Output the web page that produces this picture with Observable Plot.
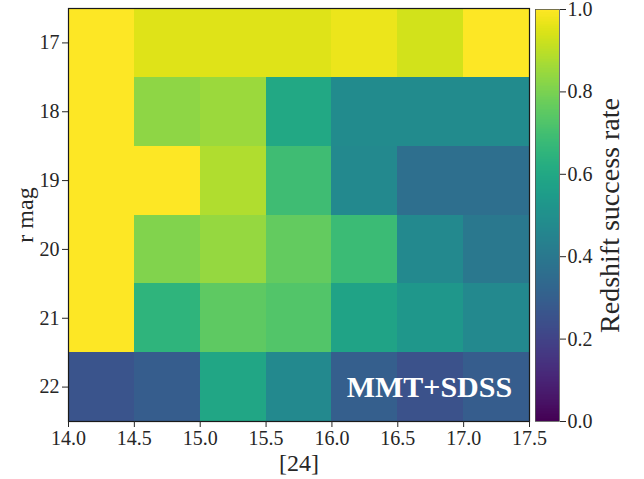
<!DOCTYPE html>
<html>
<head>
<meta charset="utf-8">
<script src="https://cdn.jsdelivr.net/npm/d3@7"></script>
<script src="https://cdn.jsdelivr.net/npm/@observablehq/plot@0.6"></script>
<style>
  body { margin: 0; background: #fff; }
  #chart { position: relative; width: 644px; height: 479px; }
  #chart svg { position: absolute; top: 0; left: 0; }
</style>
</head>
<body>
<div id="chart"></div>
<script>
// r-band magnitude bins (row centres) and [24] magnitude bin edges
const rMag = [17, 18, 19, 20, 21, 22];
const w24Edges = [14.0, 14.5, 15.0, 15.5, 16.0, 16.5, 17.0, 17.5];

// Redshift success rate per [24] bin, one list per r-mag row
const rateR17 = [1.00, 0.95, 0.95, 0.95, 0.97, 0.93, 1.00];
const rateR18 = [1.00, 0.83, 0.85, 0.60, 0.48, 0.48, 0.48];
const rateR19 = [1.00, 1.00, 0.88, 0.69, 0.47, 0.36, 0.36];
const rateR20 = [1.00, 0.81, 0.84, 0.76, 0.68, 0.47, 0.40];
const rateR21 = [1.00, 0.65, 0.75, 0.73, 0.58, 0.53, 0.47];
const rateR22 = [0.26, 0.29, 0.59, 0.47, 0.30, 0.25, 0.29];

const rateTicks = [0, 0.2, 0.4, 0.6, 0.8, 1.0];
const sampleLabel = "MMT+SDSS";

const rows = [rateR17, rateR18, rateR19, rateR20, rateR21, rateR22];
const cells = rows.flatMap((row, i) =>
  row.map((rate, j) => ({
    x1: w24Edges[j], x2: w24Edges[j + 1],
    y1: rMag[i] - 0.5, y2: rMag[i] + 0.5,
    rate
  }))
);

const font = "'Liberation Serif', 'Times New Roman', serif";
const ink = "#262626";
const tickFont = 20;
const colorScale = { type: "linear", scheme: "viridis", domain: [0, 1] };

const main = Plot.plot({
  width: 644, height: 479,
  marginLeft: 68, marginRight: 115, marginTop: 8, marginBottom: 58,
  style: { fontFamily: font, fontSize: "20px", color: ink, background: "none", overflow: "visible" },
  x: { domain: [14, 17.5] },
  y: { domain: [16.5, 22.5], reverse: true },
  color: colorScale,
  marks: [
    Plot.rect(cells, { x1: "x1", x2: "x2", y1: "y1", y2: "y2", fill: "rate", shapeRendering: "crispEdges" }),
    Plot.frame({ stroke: "#1a1a1a", strokeWidth: 1.2 }),
    Plot.axisX({ ticks: w24Edges, tickFormat: d => d.toFixed(1), tickSize: 6, tickPadding: 3, fontSize: tickFont, stroke: ink, fill: ink, label: null }),
    Plot.axisY({ ticks: rMag, tickFormat: d => String(d), tickSize: 6, tickPadding: 3, fontSize: tickFont, stroke: ink, fill: ink, label: null }),
    Plot.text([sampleLabel], { x: 16.74, y: 22, text: d => d, fill: "white", fontWeight: "bold", fontSize: 30 }),
    Plot.text(["[24]"], { frameAnchor: "bottom", dy: 42, text: d => d, fontSize: 24, fill: ink, textAnchor: "middle", lineAnchor: "middle" }),
    Plot.text(["r mag"], { frameAnchor: "left", dx: -43, rotate: -90, text: d => d, fontSize: 24, fill: ink, textAnchor: "middle", lineAnchor: "middle" })
  ]
});

// Vertical colour bar drawn as thin stacked rects on the same viridis scale
const step = 0.002;
const ramp = d3.range(0, 1, step).map(v => ({ y1: v, y2: v + step, v: v + step / 2 }));

const bar = Plot.plot({
  width: 644, height: 479,
  marginLeft: 535, marginRight: 85, marginTop: 9, marginBottom: 58,
  style: { fontFamily: font, fontSize: "20px", color: ink, background: "none", overflow: "visible" },
  y: { domain: [0, 1] },
  color: colorScale,
  marks: [
    Plot.rect(ramp, { y1: "y1", y2: "y2", fill: "v", shapeRendering: "crispEdges" }),
    Plot.frame({ stroke: "#555", strokeWidth: 0.8 }),
    Plot.axisY({ anchor: "right", ticks: rateTicks, tickFormat: d => d.toFixed(1), tickSize: 6, tickPadding: 2, fontSize: tickFont, stroke: ink, fill: ink, label: null }),
    Plot.text(["Redshift success rate"], { frameAnchor: "right", dx: 51, rotate: -90, text: d => d, fontSize: 28, fill: ink, textAnchor: "middle", lineAnchor: "middle" })
  ]
});

const chart = document.getElementById("chart");
chart.appendChild(main);
chart.appendChild(bar);
</script>
</body>
</html>
